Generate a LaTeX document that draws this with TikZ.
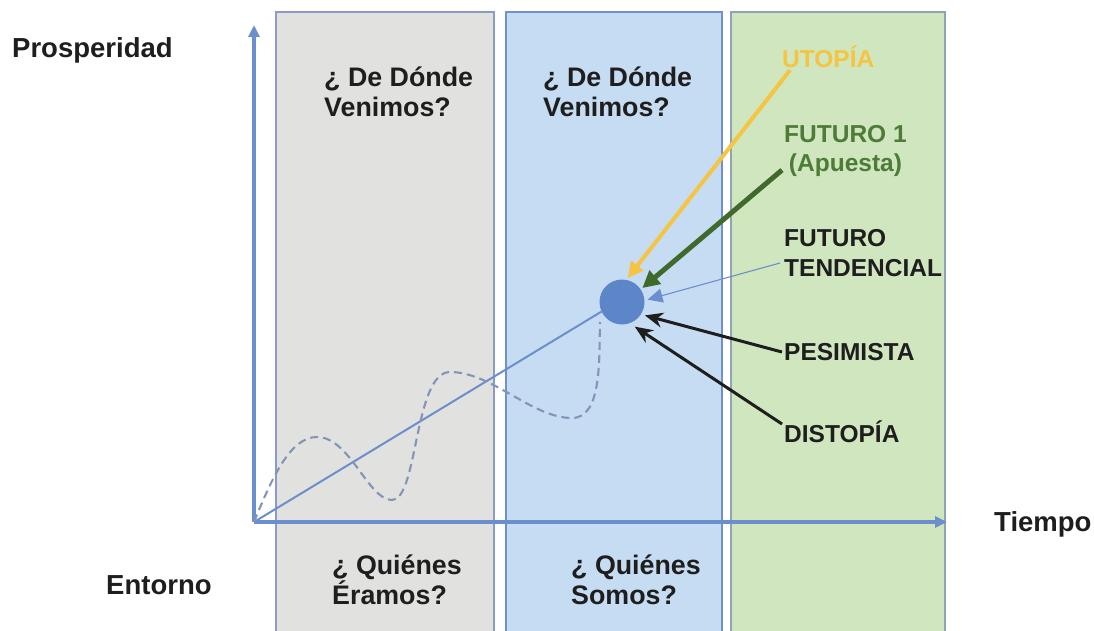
\documentclass[tikz,border=0pt]{standalone}
\usepackage{fontspec}
\setmainfont{Liberation Sans}
\usetikzlibrary{arrows.meta}
\definecolor{axisblue}{HTML}{6B8FCC}
\definecolor{grayfill}{HTML}{E1E1DF}
\definecolor{grayedge}{HTML}{8A9BCB}
\definecolor{bluefill}{HTML}{C6DCF2}
\definecolor{blueedge}{HTML}{7191C9}
\definecolor{greenfill}{HTML}{D0E6BF}
\definecolor{greenedge}{HTML}{8FA3B4}
\definecolor{dotblue}{HTML}{5C86C8}
\definecolor{wavegray}{HTML}{8494B8}
\definecolor{utoyellow}{HTML}{F5C443}
\definecolor{futgreen}{HTML}{3F6A2B}
\definecolor{futtext}{HTML}{4E7B37}
\definecolor{ink}{HTML}{1E1E1E}
\begin{document}
\begin{tikzpicture}[x=1pt,y=-1pt,
  mainlbl/.style={font=\bfseries\fontsize{27.5}{30}\selectfont, text=ink, inner sep=0pt, align=left},
  boxlbl/.style={font=\bfseries\fontsize{26.8}{29.5}\selectfont, text=ink, inner sep=0pt, align=left, anchor=west},
  sidelbl/.style={font=\bfseries\fontsize{24.5}{29.5}\selectfont, text=ink, inner sep=0pt, anchor=west},
  band/.style={line width=1.8pt},
  axisline/.style={draw=axisblue, line width=3.4pt, -{Triangle[length=12pt,width=11pt]}},
  blackarrow/.style={draw=ink, line width=3pt, -{Stealth[length=18pt,width=15pt]}}
]
\useasboundingbox (0,0) rectangle (1094,630);
\fill[white] (0,0) rectangle (1094,630);
% bands
\draw[band, fill=grayfill, draw=grayedge] (276,12) rectangle (494,634);
\draw[band, fill=bluefill, draw=blueedge] (506,12) rectangle (722,634);
\draw[band, fill=greenfill, draw=greenedge] (731,12) rectangle (945,634);
% axes
\coordinate (o) at (254,522);
\coordinate (ytop) at (254,25);
\coordinate (xend) at (947,522);
\draw[axisline] (o) -- (ytop);
\draw[axisline] (o) -- (xend);
% circle
\node[circle, fill=dotblue, minimum size=45pt, inner sep=0pt] (c) at (622,302) {};
% trend line
\draw[axisblue, line width=2pt] (o) -- (c.205);
% wave
\draw[wavegray, line width=2.1pt, dash pattern=on 8pt off 5pt]
  (o) .. controls (272,478) and (290,437) .. (317,437)
      .. controls (350,437) and (368,500) .. (392,500)
      .. controls (418,500) and (414,372) .. (450,372)
      .. controls (492,372) and (532,418) .. (572,418)
      .. controls (602,418) and (599,360) .. (600,322);
% axis labels
\node[mainlbl, anchor=west] (pros) at (12,50) {Prosperidad};
\node[mainlbl, anchor=west] (ent) at (106,585) {Entorno};
\node[mainlbl, anchor=west] (tie) at (994,524) {Tiempo};
% band labels
\node[boxlbl] (dg) at (324,92) {¿ De Dónde\\Venimos?};
\node[boxlbl] (db) at (543,92) {¿ De Dónde\\Venimos?};
\node[boxlbl] (qe) at (332,580) {¿ Quiénes\\Éramos?};
\node[boxlbl] (qs) at (571,580) {¿ Quiénes\\Somos?};
% side labels
\node[sidelbl, text=utoyellow] (uto) at (782,57) {UTOPÍA};
\node[sidelbl, text=futtext, align=center] (f1) at (784,151) {FUTURO 1\\(Apuesta)};
\node[sidelbl, align=left] (ft) at (784,253) {FUTURO\\TENDENCIAL};
\node[sidelbl] (pes) at (784,352) {PESIMISTA};
\node[sidelbl] (dis) at (784,432) {DISTOPÍA};
% arrows
\draw[utoyellow, line width=4pt, -{Triangle[length=16pt,width=15pt]}, shorten >=2pt]
  ([xshift=8pt,yshift=-2pt]uto.south west) -- (c.79);
\draw[futgreen, line width=5pt, -{Triangle[length=17pt,width=17pt]}, shorten >=2pt]
  ([xshift=-2pt,yshift=7pt]f1.south west) -- (c.34);
\draw[axisblue, line width=1.1pt, -{Triangle[length=15pt,width=14pt]}, shorten >=3pt]
  ([xshift=-4pt,yshift=-10pt]ft.west) -- (c.4);
\draw[blackarrow, shorten >=4pt] ([xshift=-2pt]pes.west) -- (c.-33);
\draw[blackarrow, shorten >=6pt] ([xshift=-2pt,yshift=8pt]dis.west) -- (c.-70);
\end{tikzpicture}
\end{document}
